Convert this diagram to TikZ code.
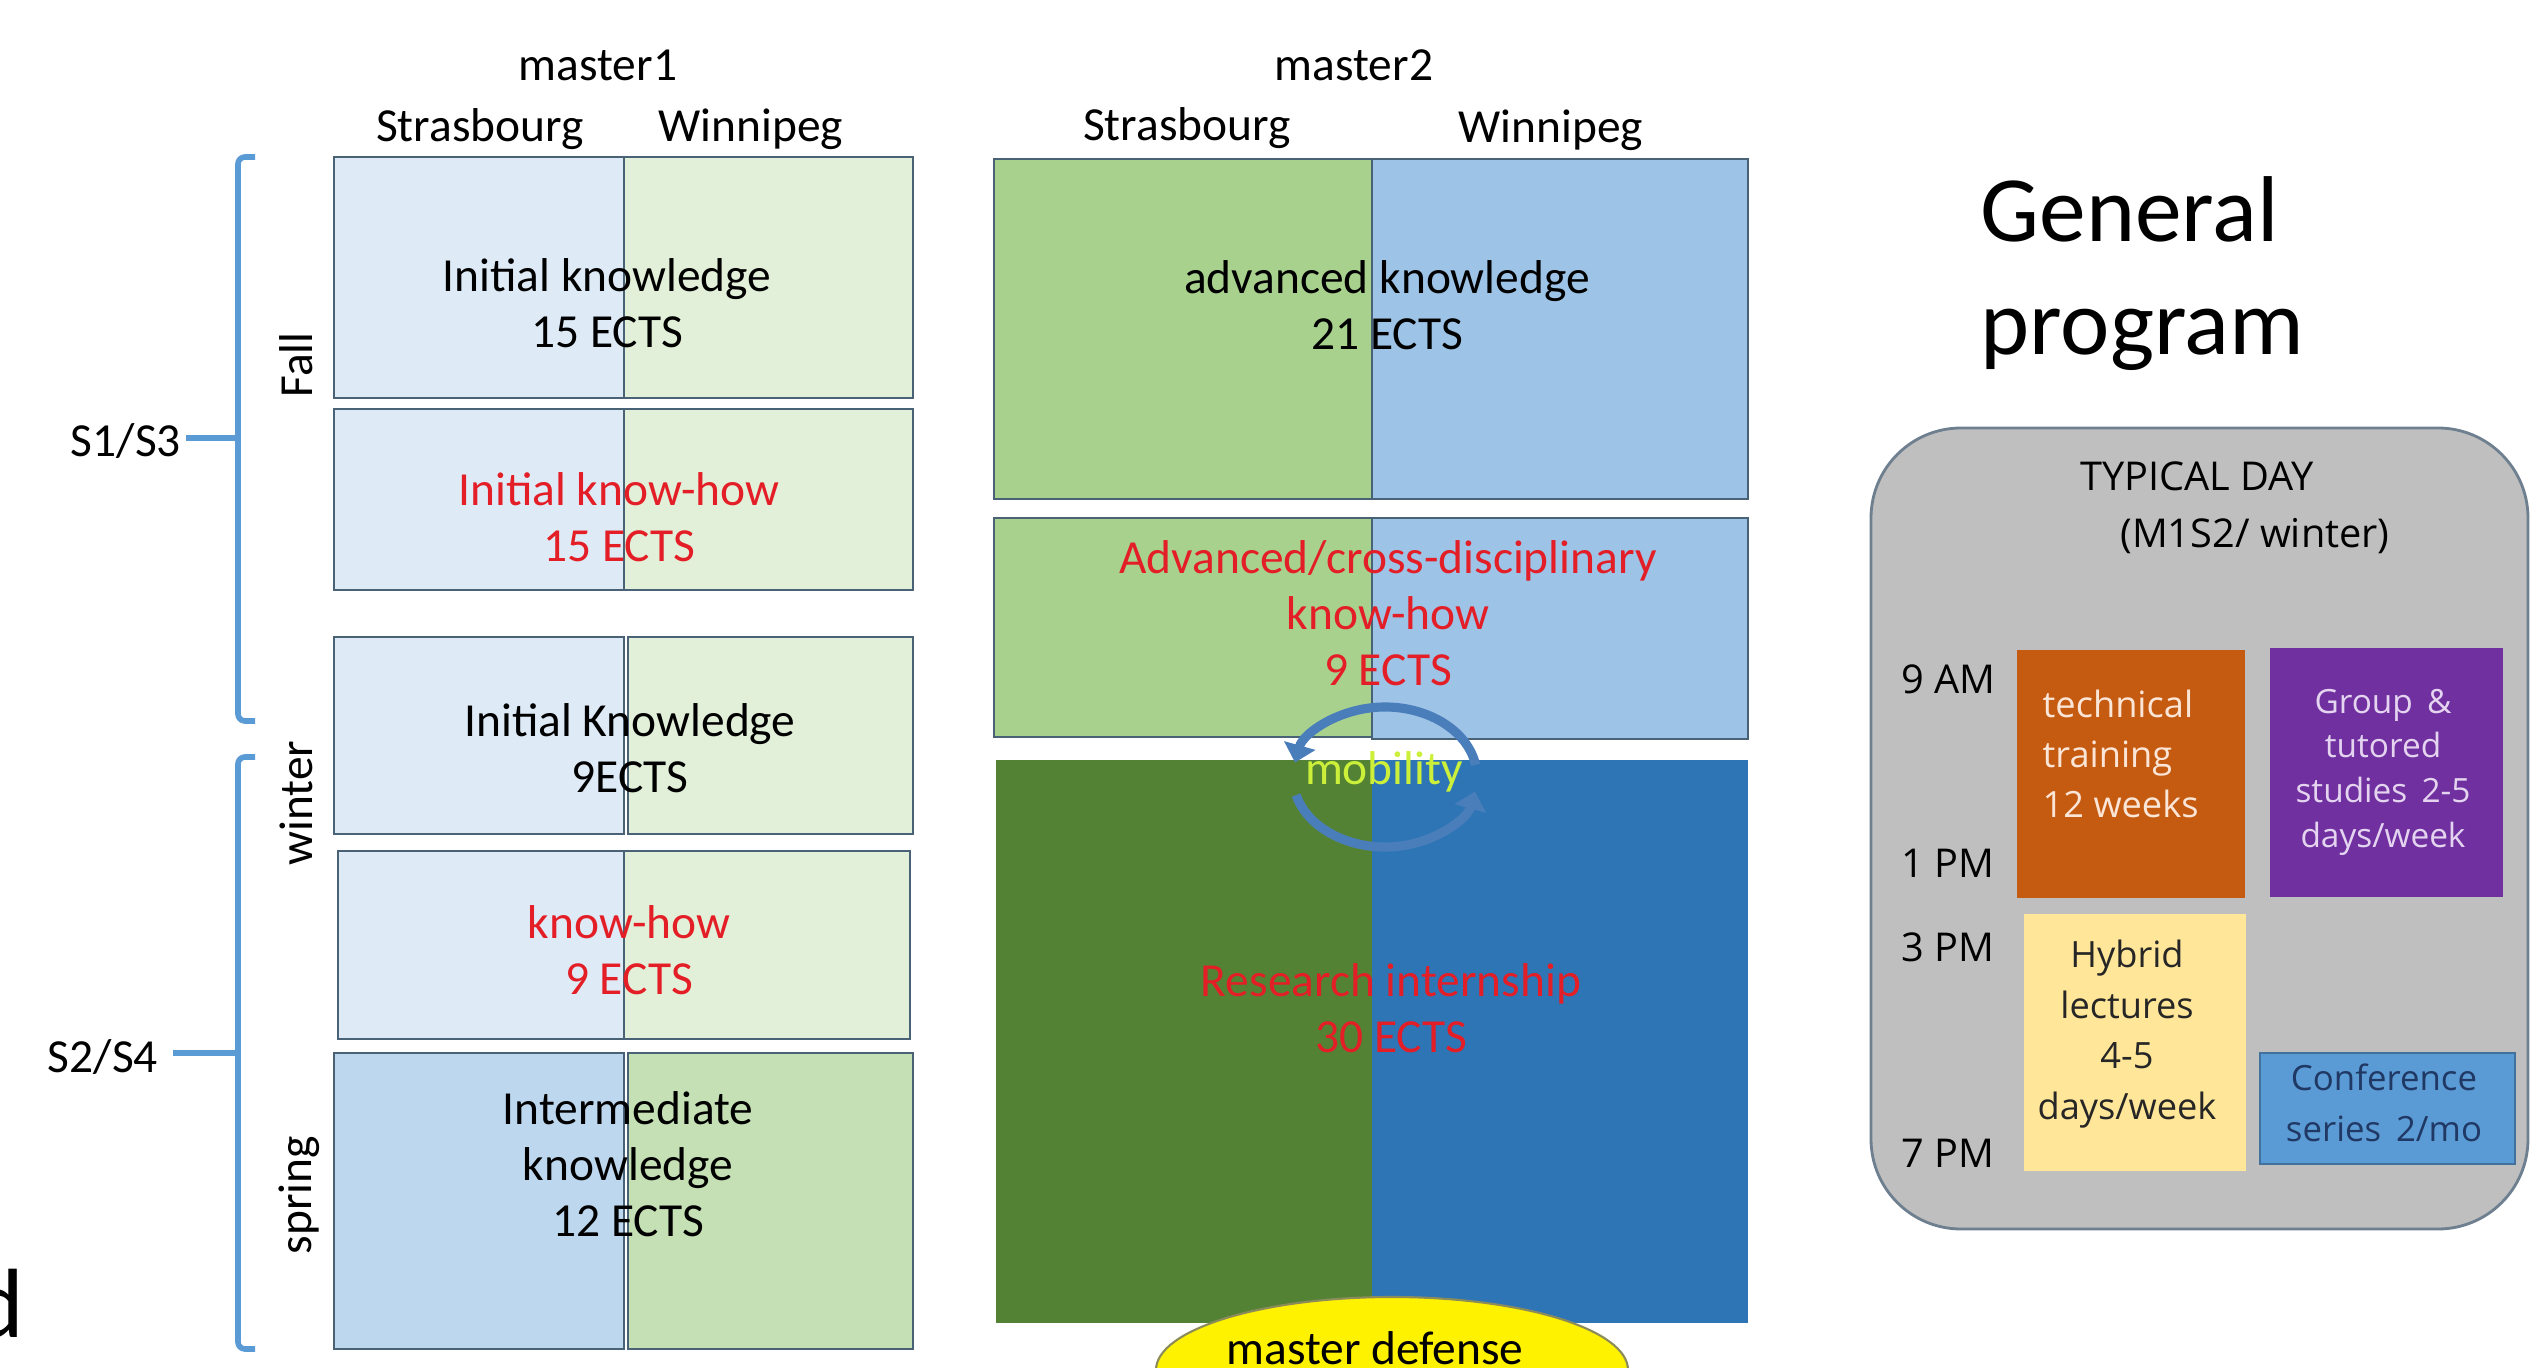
\documentclass[tikz,border=0pt]{standalone}
\usepackage{fontspec}
\setmainfont{Carlito}
\newfontfamily\panelfont{Open Sans}
\usetikzlibrary{arrows.meta}
\definecolor{paleblue}{HTML}{DEEBF7}
\definecolor{palegreen}{HTML}{E2F0D9}
\definecolor{midblue}{HTML}{BDD7EE}
\definecolor{midgreen}{HTML}{C5E0B4}
\definecolor{softgreen}{HTML}{A9D18E}
\definecolor{softblue}{HTML}{9DC3E6}
\definecolor{deepgreen}{HTML}{548235}
\definecolor{deepblue}{HTML}{2E75B6}
\definecolor{boxedge}{HTML}{4A6276}
\definecolor{bracecol}{HTML}{5B9BD5}
\definecolor{ectsred}{HTML}{E41E26}
\definecolor{mobcol}{HTML}{CCF03A}
\definecolor{panelgray}{HTML}{BFBFBF}
\definecolor{paneledge}{HTML}{6E7F90}
\definecolor{techorange}{HTML}{C55A11}
\definecolor{grouppurple}{HTML}{7030A0}
\definecolor{hybridyellow}{HTML}{FFE699}
\definecolor{confblue}{HTML}{5B9BD5}
\definecolor{confedge}{HTML}{41719C}
\definecolor{arrowblue}{HTML}{4A7EBB}
\definecolor{defenseedge}{HTML}{8C8C5A}

\begin{document}
\begin{tikzpicture}[
    half/.style={draw=boxedge, line width=0.6pt},
    txt/.style={align=center, inner sep=0pt, font=\fontsize{13.5pt}{16pt}\selectfont},
    brace/.style={draw=bracecol, line width=1.6pt, rounded corners=2pt},
    ptxt/.style={inner sep=0pt, font=\panelfont\fontsize{11.3pt}{16.5pt}\selectfont},
    mobarrow/.style={arrowblue, line width=2.6pt, -{Triangle[width=9pt,length=5pt]}}]
        \useasboundingbox (0,0) rectangle (25.33,13.67);
        \fill[white] (0,0) rectangle (25.33,13.67);
        % master1
        \draw[half, fill=paleblue] (3.34,12.10) rectangle (6.24,9.69);
        \draw[half, fill=palegreen] (6.24,12.10) rectangle (9.13,9.69);
        \draw[half, fill=paleblue] (3.34,9.58) rectangle (6.24,7.77);
        \draw[half, fill=palegreen] (6.24,9.58) rectangle (9.13,7.77);
        \draw[half, fill=paleblue] (3.34,7.30) rectangle (6.24,5.33);
        \draw[half, fill=palegreen] (6.28,7.30) rectangle (9.13,5.33);
        \draw[half, fill=paleblue] (3.38,5.16) rectangle (6.24,3.28);
        \draw[half, fill=palegreen] (6.24,5.16) rectangle (9.10,3.28);
        \draw[half, fill=midblue] (3.34,3.14) rectangle (6.24,0.18);
        \draw[half, fill=midgreen] (6.28,3.14) rectangle (9.13,0.18);
        % master2
        \draw[half, fill=softgreen] (9.94,12.08) rectangle (13.72,8.68);
        \draw[half, fill=softblue] (13.72,12.08) rectangle (17.48,8.68);
        \draw[half, fill=softgreen] (9.94,8.49) rectangle (13.72,6.30);
        \draw[half, fill=softblue] (13.72,8.49) rectangle (17.48,6.28);
        \fill[deepgreen] (9.96,6.07) rectangle (13.72,0.44);
        \fill[deepblue] (13.72,6.07) rectangle (17.48,0.44);
        \draw[defenseedge, fill=yellow, line width=0.6pt] (13.92,-0.03) ellipse [x radius=2.36, y radius=0.73];
        % headers
        \node[txt] (m1) at (5.98,13.02) {master1};
        \node[txt] (m1s) at (4.80,12.38) {Strasbourg};
        \node[txt] (m1w) at (7.51,12.38) {Winnipeg};
        \node[txt] (m2) at (13.54,13.02) {master2};
        \node[txt] (m2s) at (11.87,12.39) {Strasbourg};
        \node[txt] (m2w) at (15.51,12.37) {Winnipeg};
        % semesters
        \draw[brace] (2.55,12.10) -- (2.38,12.10) -- (2.38,6.46) -- (2.55,6.46);
        \draw[brace] (2.38,9.29) -- (1.86,9.29);
        \draw[brace] (2.55,6.10) -- (2.38,6.10) -- (2.38,0.18) -- (2.55,0.18);
        \draw[brace] (2.38,3.14) -- (1.73,3.14);
        \node[txt] (s13) at (1.26,9.26) {S1/S3};
        \node[txt] (s24) at (1.03,3.10) {S2/S4};
        \node[txt, rotate=90] (fall) at (2.96,10.02) {Fall};
        \node[txt, rotate=90] (winter) at (2.96,5.64) {winter};
        \node[txt, rotate=90] (spring) at (2.99,1.72) {spring};
        % contents
        \node[txt] (know1) at (6.07,10.64) {Initial knowledge\\15 ECTS};
        \node[txt, text=ectsred] (how1) at (6.19,8.50) {Initial know-how\\15 ECTS};
        \node[txt] (know2) at (6.30,6.19) {Initial Knowledge\\9ECTS};
        \node[txt, text=ectsred] (how2) at (6.29,4.17) {know-how\\9 ECTS};
        \node[txt] (know3) at (6.28,2.03) {Intermediate\\knowledge\\12 ECTS};
        \node[txt] (know4) at (13.87,10.62) {advanced knowledge\\21 ECTS};
        \node[txt, text=ectsred] (how4) at (13.88,7.54) {Advanced/cross-disciplinary\\know-how\\9 ECTS};
        \node[txt, text=ectsred] (intern) at (13.91,3.59) {Research internship\\30 ECTS};
        % mobility
        \coordinate (mobc) at (13.85,5.90);
        \draw[mobarrow] ([shift={(10:0.92 and 0.70)}]mobc) arc[start angle=10, end angle=168, x radius=0.92, y radius=0.70];
        \draw[mobarrow] ([shift={(195:0.92 and 0.70)}]mobc) arc[start angle=195, end angle=348, x radius=0.92, y radius=0.70];
        \node[txt, text=mobcol] (mob) at (13.84,5.95) {mobility};
        \node[txt, anchor=base] (defense) at (13.75,0.03) {master defense};
        \node[anchor=base west, inner sep=0pt, font=\fontsize{28pt}{30pt}\selectfont] (cutd) at (-0.28,0.30) {d};
        % general program
        \node[anchor=base west, inner sep=0pt, font=\fontsize{26.6pt}{26pt}\selectfont] (gen) at (19.80,11.25) {General};
        \node[anchor=base west, inner sep=0pt, font=\fontsize{26.6pt}{26pt}\selectfont] (prog) at (19.80,10.12) {program};
        \draw[draw=paneledge, fill=panelgray, line width=0.8pt, rounded corners=0.9cm] (18.71,1.38) rectangle (25.28,9.39);
        \node[ptxt] (typ) at (21.97,8.91) {TYPICAL DAY};
        \node[ptxt] (term) at (22.55,8.31) {(M1S2/ winter)};
        \node[ptxt, anchor=west] (t9) at (19.01,6.88) {9 AM};
        \node[ptxt, anchor=west] (t1) at (19.01,5.04) {1 PM};
        \node[ptxt, anchor=west] (t3) at (19.01,4.20) {3 PM};
        \node[ptxt, anchor=west] (t7) at (19.01,2.14) {7 PM};
        \fill[techorange] (20.17,7.17) rectangle (22.45,4.69);
        \fill[grouppurple] (22.70,7.19) rectangle (25.03,4.70);
        \fill[hybridyellow] (20.24,4.53) rectangle (22.46,1.96);
        \draw[confedge, fill=confblue, line width=0.6pt] (22.60,3.14) rectangle (25.15,2.03);
        \node[ptxt, anchor=west, align=left, text={rgb,255:red,251;green,229;blue,214}, font=\panelfont\fontsize{10.3pt}{14.2pt}\selectfont] (tech) at (20.42,6.13) {technical\\training\\12 weeks};
        \node[ptxt, align=center, text={rgb,255:red,228;green,212;blue,240}, font=\panelfont\fontsize{9.5pt}{12.7pt}\selectfont] (group) at (23.83,5.95) {Group \,\&\\tutored\\studies \,2-5\\days/week};
        \node[ptxt, align=center, text={rgb,255:red,38;green,38;blue,38}, font=\panelfont\fontsize{10.3pt}{14.4pt}\selectfont] (hybrid) at (21.27,3.33) {Hybrid\\lectures\\4-5\\days/week};
        \node[ptxt, align=center, text={rgb,255:red,32;green,56;blue,100}, font=\panelfont\fontsize{9.9pt}{14.6pt}\selectfont] (conf) at (23.84,2.64) {Conference\\series \,2/mo};
    \end{tikzpicture}
\end{document}
